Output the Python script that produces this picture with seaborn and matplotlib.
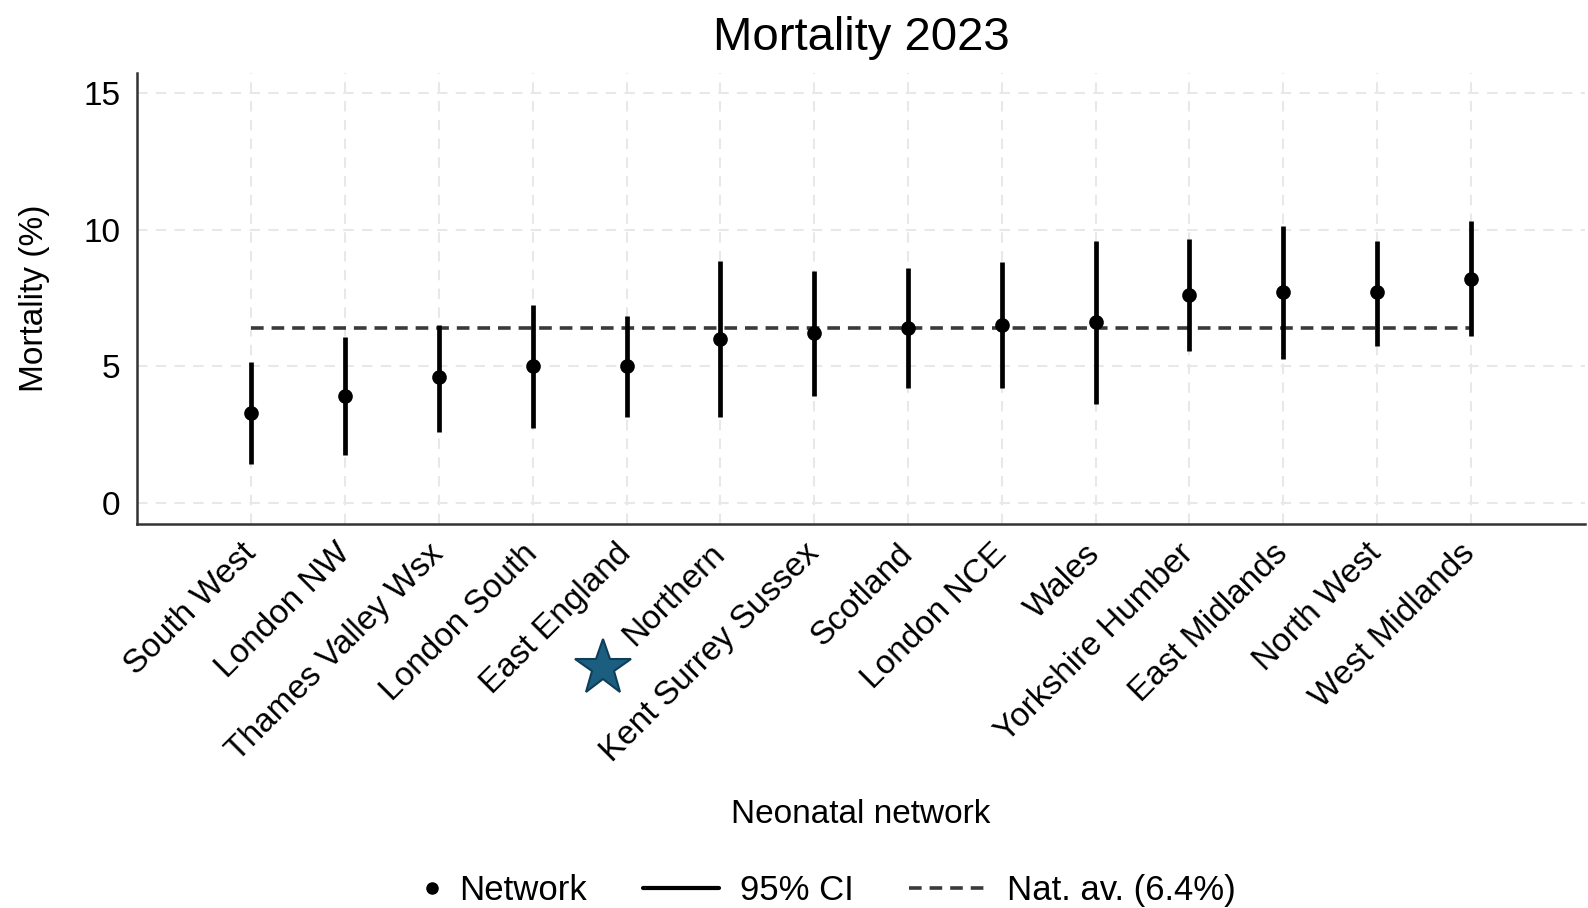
import numpy as np
import pandas as pd
import matplotlib.pyplot as plt
import seaborn as sns
from matplotlib.lines import Line2D
from matplotlib.legend_handler import HandlerLine2D

# Mortality by neonatal network, 2023
networks = ['South West', 'London NW', 'Thames Valley Wsx', 'London South',
            'East England', 'Northern', 'Kent Surrey Sussex', 'Scotland',
            'London NCE', 'Wales', 'Yorkshire Humber', 'East Midlands',
            'North West', 'West Midlands']
mortality = [3.3, 3.9, 4.6, 5.0, 5.0, 6.0, 6.2, 6.4, 6.5, 6.6, 7.6, 7.7, 7.7, 8.2]
ci_low = [1.4, 1.75, 2.6, 2.75, 3.15, 3.15, 3.9, 4.2, 4.2, 3.6, 5.55, 5.25, 5.75, 6.1]
ci_high = [5.15, 6.05, 6.5, 7.25, 6.85, 8.85, 8.5, 8.6, 8.8, 9.6, 9.65, 10.15, 9.6, 10.3]
nat_avg = 6.4
y_ticks = [0, 5, 10, 15]

df = pd.DataFrame({'network': networks, 'mortality': mortality,
                   'lo': ci_low, 'hi': ci_high})


class DotHandler(HandlerLine2D):
    # put the legend dot next to its label instead of mid-handle
    # (with numpoints=1 the marker sits in the middle of xdata)
    def get_xdata(self, legend, xdescent, ydescent, width, height, fontsize):
        m = width - xdescent - 0.2 * fontsize
        xdata = np.array([m - 1.0, m + 1.0])
        return xdata, np.array([m])


sns.set_style('white')
plt.rcParams['font.family'] = ['Liberation Sans', 'DejaVu Sans']
plt.rcParams['text.color'] = 'black'
plt.rcParams['axes.labelcolor'] = 'black'
plt.rcParams['xtick.labelcolor'] = 'black'
plt.rcParams['ytick.labelcolor'] = 'black'

fig = plt.figure(figsize=(15.88, 9.08), dpi=100)
ax = fig.add_axes([0.0862, 0.423, 0.912, 0.497])

pos = list(range(len(networks)))

# CI lines
ax.vlines(pos, df['lo'], df['hi'], color='black', linewidth=3.4, zorder=3)
# national average
ax.hlines(nat_avg, pos[0], pos[-1], color='#3a3a3a', linewidth=2.6,
          linestyles=(0, (3.5, 2.2)), zorder=2)
# network points
sns.pointplot(data=df, x='network', y='mortality', order=networks,
              linestyle='none', errorbar=None, color='black',
              markersize=8.5, ax=ax, zorder=4)

ax.set_xlim(-1.22, 14.22)
ax.set_ylim(-0.78, 15.75)
ax.set_yticks(y_ticks)

ax.grid(True, color='#e8e8e8', linestyle=(0, (5, 4)), linewidth=1.5)
ax.set_axisbelow(True)
sns.despine(ax=ax)
for s in ['left', 'bottom']:
    ax.spines[s].set_color('#333333')
    ax.spines[s].set_linewidth(1.8)

ax.tick_params(axis='both', direction='out', length=8, width=1.5,
               color='#333333', labelsize=24, pad=4)
ax.tick_params(axis='x', pad=10)
plt.setp(ax.get_xticklabels(), rotation=45, ha='right', va='center',
         rotation_mode='anchor')

ax.set_title('Mortality 2023', fontsize=34, pad=16)
ax.set_xlabel('Neonatal network', fontsize=24, labelpad=22)
ax.set_ylabel('Mortality (%)', fontsize=24, labelpad=24)

dot = Line2D([], [], marker='o', linestyle='none', color='black', markersize=8)
handles = [
    dot,
    Line2D([], [], color='black', linewidth=3.0),
    Line2D([], [], color='#3a3a3a', linewidth=2.6, linestyle=(0, (3.5, 2.2))),
]
fig.legend(handles, ['Network', '95% CI', 'Nat. av. (6.4%)'],
           loc='center', bbox_to_anchor=(0.503, 0.019), ncol=3,
           frameon=False, fontsize=25, handlelength=2.2, columnspacing=1.6,
           handletextpad=0.6, handler_map={dot: DotHandler(numpoints=1)})

# star annotation below the axis
fig.lines.append(Line2D([0.3797], [0.2643], marker='*', markersize=42,
                        color='#1b5e80', markeredgecolor='#0f3f58',
                        markeredgewidth=1.5, linestyle='none',
                        transform=fig.transFigure))

fig.savefig('out.png', dpi=100)
